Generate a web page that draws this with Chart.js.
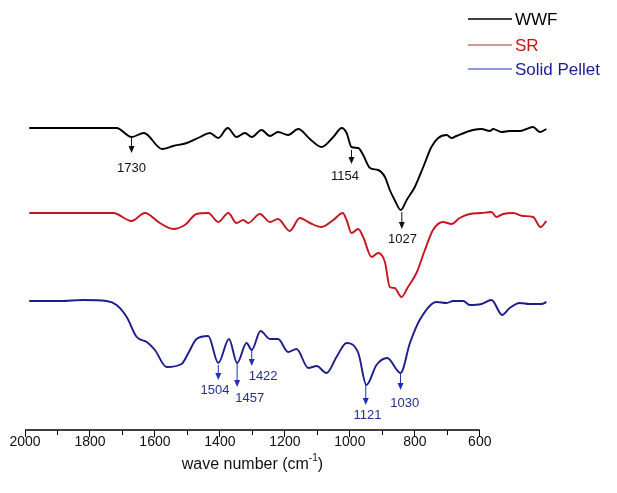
<!DOCTYPE html>
<html>
<head>
<meta charset="utf-8">
<script src="https://cdn.jsdelivr.net/npm/chart.js@4"></script>
<style>
html, body { margin: 0; padding: 0; background: #fff; }
</style>
</head>
<body>
<canvas id="ftir" width="617" height="493"></canvas>
<script>
// spectra, x = wave number as drawn on the axis, y = transmittance (a.u., offset)
let wwfX = [1987, 1718, 1672, 1634, 1578, 1544, 1502, 1461, 1431, 1405, 1376, 1349, 1323, 1302, 1272, 1246, 1221, 1190, 1159, 1123, 1087, 1051, 1025, 1010, 995, 974, 959, 938, 913, 892, 877, 862, 843, 825, 800, 774, 749, 728, 702, 687, 672, 641, 621, 595, 569, 559, 533, 508, 477, 456, 436, 415, 395];
let wwfY = [302, 302, 293, 297, 281, 284, 287, 293, 297, 292, 302, 293, 297, 293, 300, 294, 298, 295, 301, 291, 283, 293, 302, 297, 283, 282, 275, 262, 260, 253, 240, 230, 220, 230, 243, 263, 283, 292, 295, 292, 294, 298, 300, 301, 299, 301, 298, 299, 299, 301, 303, 298, 301];

let srX = [1987, 1728, 1672, 1631, 1585, 1544, 1508, 1472, 1436, 1405, 1374, 1349, 1328, 1313, 1277, 1246, 1221, 1185, 1154, 1123, 1087, 1051, 1022, 1010, 995, 974, 959, 933, 913, 892, 877, 862, 841, 821, 795, 769, 744, 713, 687, 662, 631, 595, 564, 549, 528, 497, 467, 436, 413, 395];
let srY = [217, 217, 209, 217, 207, 201, 205, 216, 217, 208, 217, 207, 210, 207, 216, 208, 211, 199, 212, 207, 203, 210, 217, 210, 197, 201, 193, 173, 177, 168, 143, 142, 133, 143, 157, 180, 200, 208, 206, 212, 216, 217, 218, 213, 216, 217, 214, 213, 203, 209];

let pelletX = [1987, 1892, 1821, 1749, 1718, 1687, 1656, 1625, 1600, 1564, 1518, 1497, 1472, 1436, 1405, 1372, 1347, 1318, 1302, 1275, 1246, 1221, 1190, 1164, 1128, 1102, 1072, 1041, 1010, 974, 949, 918, 885, 844, 815, 785, 733, 702, 682, 651, 631, 595, 564, 531, 508, 477, 446, 410, 395];
let pelletY = [129, 129, 130, 129, 125, 113, 93, 88, 80, 63, 66, 77, 91, 94, 67, 91, 67, 87, 80, 99, 91, 91, 78, 81, 62, 64, 57, 73, 87, 77, 45, 65, 72, 57, 87, 110, 128, 127, 129, 129, 125, 126, 130, 115, 122, 127, 126, 126, 128];

let seriesNames = ['WWF', 'SR', 'Solid Pellet'];
let xTicks = [2000, 1800, 1600, 1400, 1200, 1000, 800, 600];

// peak marks: label, arrow x, arrow start, arrow tip, label x, label y
let wwfMarks = ['1730', '1154', '1027'];
let wwfMarkX = [1672, 995, 840];
let wwfMarkFrom = [292, 280, 218];
let wwfMarkTo = [277, 266, 201];
let wwfLabelX = [1672, 1015, 838];
let wwfLabelY = [262, 254, 191];

let pelletMarks = ['1504', '1457', '1422', '1121', '1030'];
let pelletMarkX = [1405, 1347, 1302, 951, 844];
let pelletMarkFrom = [65, 67, 80, 45, 57];
let pelletMarkTo = [50, 43, 64, 25, 40];
let pelletLabelX = [1415, 1308, 1267, 946, 831];
let pelletLabelY = [40, 32, 54, 15, 27];

const FONT = 'Liberation Sans, Arial, sans-serif';

function pts(xs, ys) {
    return xs.map((x, i) => ({ x: x, y: ys[i] }));
}

function drawArrow(ctx, x, y0, y1, color) {
    ctx.strokeStyle = color;
    ctx.fillStyle = color;
    ctx.lineWidth = 1;
    ctx.beginPath();
    ctx.moveTo(x, y0);
    ctx.lineTo(x, y1 - 6);
    ctx.stroke();
    ctx.beginPath();
    ctx.moveTo(x - 3, y1 - 7);
    ctx.lineTo(x + 3, y1 - 7);
    ctx.lineTo(x, y1);
    ctx.closePath();
    ctx.fill();
}

const extras = {
    id: 'extras',
    afterDraw(chart) {
        const ctx = chart.ctx;
        const xs = chart.scales.x;
        const ys = chart.scales.y;
        const base = chart.chartArea.bottom;
        ctx.save();

        // axis line only across the labelled range, plus minor ticks
        ctx.strokeStyle = '#000';
        ctx.lineWidth = 1.5;
        ctx.beginPath();
        ctx.moveTo(xs.getPixelForValue(2000), base);
        ctx.lineTo(xs.getPixelForValue(600), base);
        ctx.stroke();
        ctx.lineWidth = 1;
        for (let v = 1900; v > 600; v -= 200) {
            const px = Math.round(xs.getPixelForValue(v)) + 0.5;
            ctx.beginPath();
            ctx.moveTo(px, base);
            ctx.lineTo(px, base + 5);
            ctx.stroke();
        }

        // axis title
        const cx = xs.getPixelForValue(1300);
        const main = 'wave number (cm';
        ctx.font = '16px ' + FONT;
        const w1 = ctx.measureText(main).width;
        const w3 = ctx.measureText(')').width;
        ctx.font = '10px ' + FONT;
        const w2 = ctx.measureText('-1').width;
        let tx = cx - (w1 + w2 + w3) / 2;
        const ty = 469;
        ctx.fillStyle = '#111';
        ctx.textBaseline = 'alphabetic';
        ctx.textAlign = 'left';
        ctx.font = '16px ' + FONT;
        ctx.fillText(main, tx, ty);
        ctx.font = '10px ' + FONT;
        ctx.fillText('-1', tx + w1, ty - 8);
        ctx.font = '16px ' + FONT;
        ctx.fillText(')', tx + w1 + w2, ty);

        // peak marks
        ctx.font = '13px ' + FONT;
        ctx.textAlign = 'center';
        ctx.textBaseline = 'middle';
        wwfMarks.forEach((t, i) => {
            const px = xs.getPixelForValue(wwfMarkX[i]);
            drawArrow(ctx, px, ys.getPixelForValue(wwfMarkFrom[i]), ys.getPixelForValue(wwfMarkTo[i]), '#111');
            ctx.fillStyle = '#111';
            ctx.fillText(t, xs.getPixelForValue(wwfLabelX[i]), ys.getPixelForValue(wwfLabelY[i]));
        });
        pelletMarks.forEach((t, i) => {
            const px = xs.getPixelForValue(pelletMarkX[i]);
            drawArrow(ctx, px, ys.getPixelForValue(pelletMarkFrom[i]), ys.getPixelForValue(pelletMarkTo[i]), '#1f2fb8');
            ctx.fillStyle = '#23308f';
            ctx.fillText(t, xs.getPixelForValue(pelletLabelX[i]), ys.getPixelForValue(pelletLabelY[i]));
        });

        // legend
        const legLine = ['#000', '#b52a2a', '#1f2fcc'];
        const legText = ['#000', '#cc1111', '#1a1a9a'];
        const legY = [19, 45, 69];
        ctx.font = '17px ' + FONT;
        ctx.textAlign = 'left';
        seriesNames.forEach((n, i) => {
            ctx.strokeStyle = legLine[i];
            ctx.lineWidth = i === 0 ? 1.6 : 1.2;
            ctx.beginPath();
            ctx.moveTo(468, legY[i]);
            ctx.lineTo(512, legY[i]);
            ctx.stroke();
            ctx.fillStyle = legText[i];
            ctx.fillText(n, 515, legY[i] + 1);
        });
        ctx.restore();
    }
};

const ctx = document.getElementById('ftir').getContext('2d');

const chart = new Chart(ctx, {
    type: 'line',
    data: {
        datasets: [
            { label: seriesNames[0], data: pts(wwfX, wwfY), borderColor: '#000' },
            { label: seriesNames[1], data: pts(srX, srY), borderColor: '#c8141e' },
            { label: seriesNames[2], data: pts(pelletX, pelletY), borderColor: '#1c1c8c' }
        ]
    },
    options: {
        responsive: false,
        animation: false,
        layout: { padding: { left: 25, right: 69, top: 10, bottom: 0 } },
        elements: {
            point: { radius: 0 },
            line: { borderWidth: 1.9, cubicInterpolationMode: 'monotone' }
        },
        plugins: {
            legend: { display: false },
            tooltip: { enabled: false }
        },
        scales: {
            x: {
                type: 'linear',
                reverse: true,
                min: 390,
                max: 2000,
                afterBuildTicks: s => {
                    s.ticks = xTicks.map(v => ({ value: v }));
                },
                afterFit: s => { s.height = 63; },
                border: { display: false },
                grid: {
                    drawOnChartArea: false,
                    tickLength: 7,
                    tickColor: '#000',
                    tickWidth: 1
                },
                ticks: {
                    padding: -3,
                    color: '#111',
                    font: { family: FONT, size: 14 },
                    maxRotation: 0,
                    autoSkip: false,
                    callback: v => String(v)
                }
            },
            y: {
                display: false,
                min: 0,
                max: 420
            }
        }
    },
    plugins: [extras]
});
</script>
</body>
</html>
